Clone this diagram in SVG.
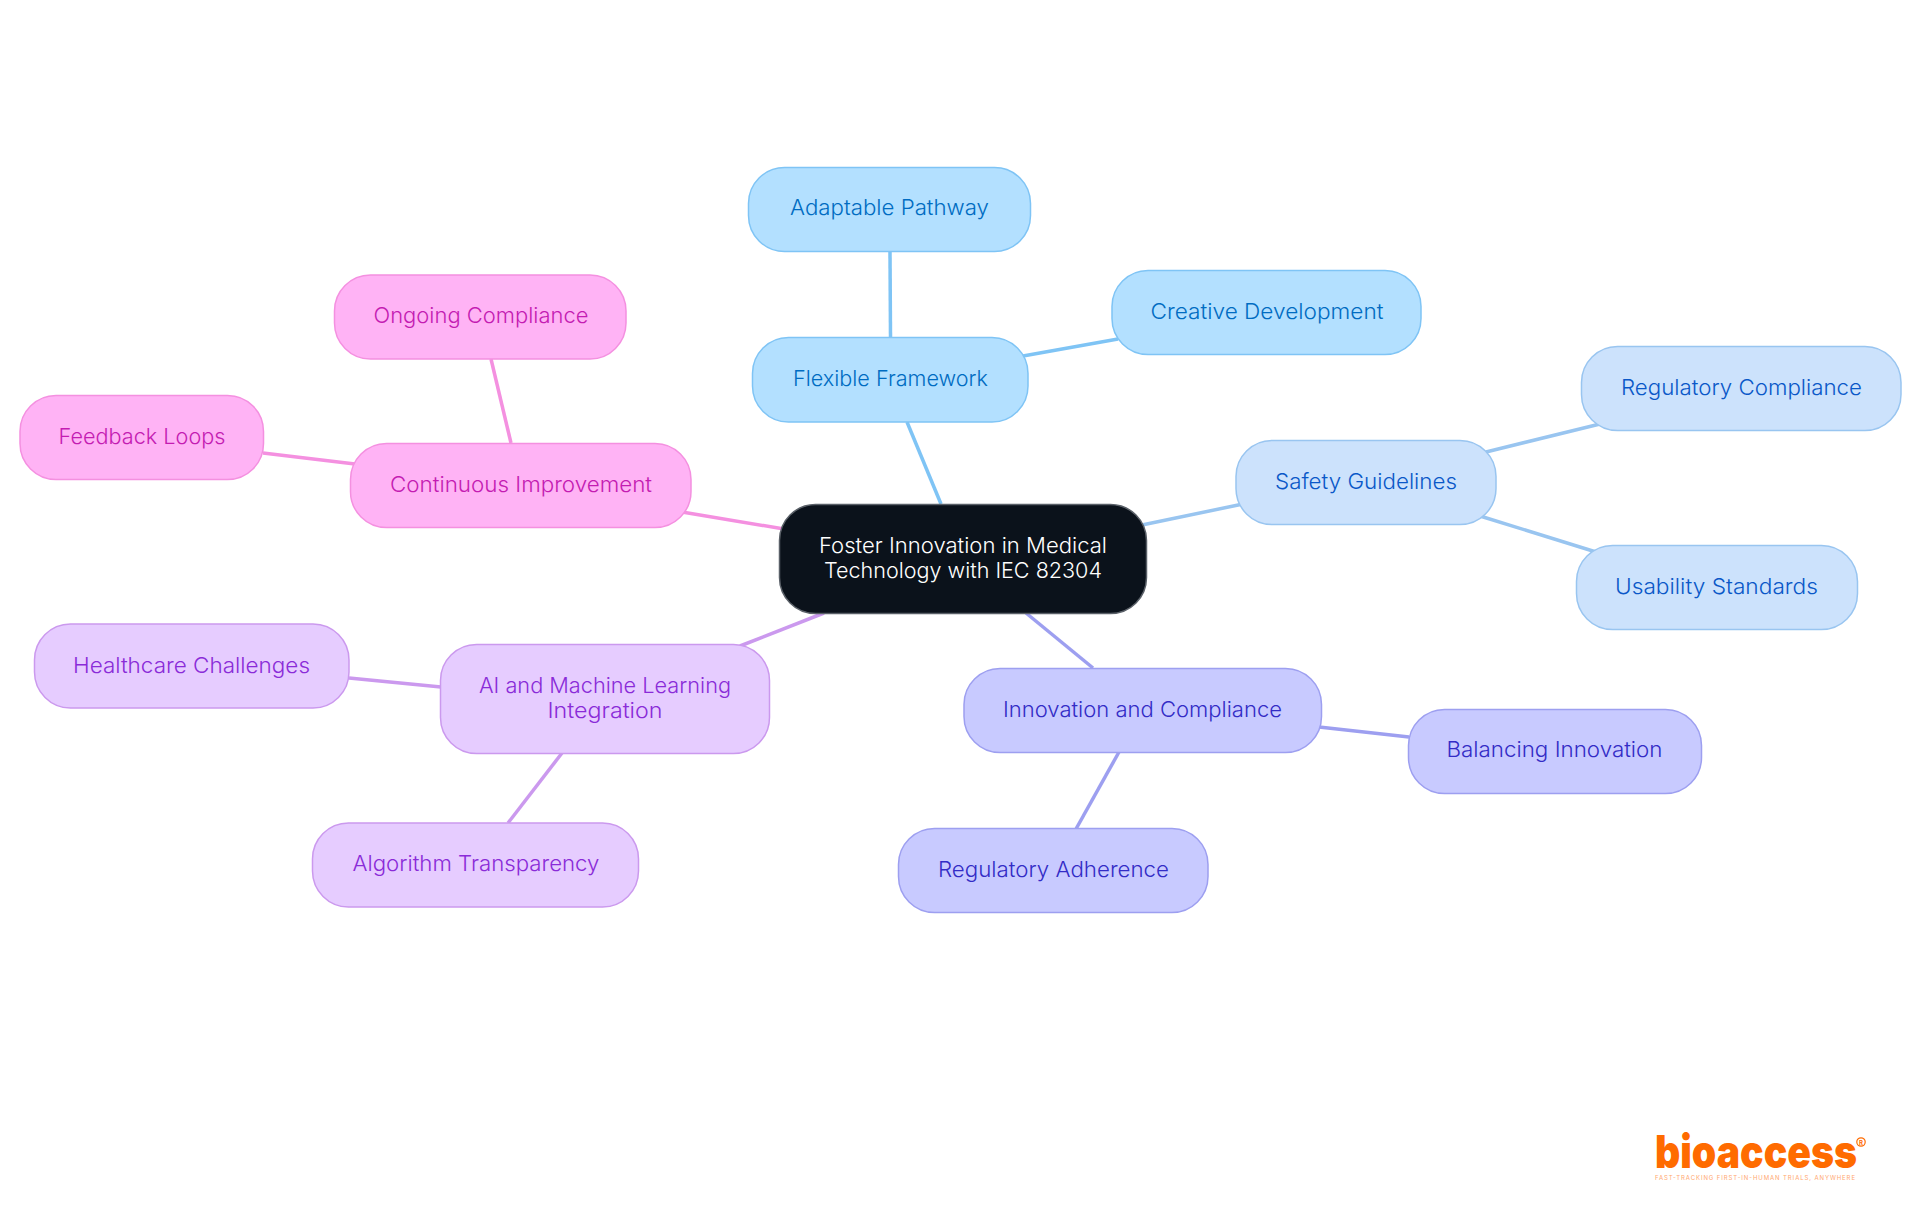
<svg xmlns="http://www.w3.org/2000/svg" width="1920" height="1215" viewBox="0 0 1920 1215">
<style>
text{font-family:"Inter","Noto Sans","Liberation Sans",sans-serif;font-size:22px;text-anchor:middle;font-weight:350}
.n{stroke-width:1.5}
.e{fill:none;stroke-linecap:butt}
.b1 rect{fill:#B3E0FF;stroke:#7FC4F5}.b1 text{fill:#006CC2}
.b2 rect{fill:#CCE2FC;stroke:#99C5F0}.b2 text{fill:#0A58C8}
.b3 rect{fill:#C8CAFF;stroke:#9D9FF0}.b3 text{fill:#332CC6}
.b4 rect{fill:#E6CCFF;stroke:#CB99EE}.b4 text{fill:#8A2BD8}
.b5 rect{fill:#FFB3F5;stroke:#F490E0}.b5 text{fill:#C41CB2}
</style>
<rect width="1920" height="1215" fill="#FFFFFF"/>
<g id="connectors" class="e" stroke-width="3.5">
<g stroke="#7FC4F5">
<path d="M941 504L907 422"/><path d="M890 252L890.500 337"/><path d="M1023 356L1118 339"/>
</g>
<g stroke="#99C5F0">
<path d="M1142 525L1243 504"/><path d="M1486 452L1600 424"/><path d="M1480 516L1596 552"/>
</g>
<g stroke="#9D9FF0">
<path d="M1026 613L1093 668"/><path d="M1319 727L1409 737"/><path d="M1119 752L1076 829"/>
</g>
<g stroke="#CB99EE">
<path d="M824 613L740 646"/><path d="M441 687L349 678"/><path d="M562 753L508 823"/>
</g>
<g stroke="#F490E0">
<path d="M784 529L682 512"/><path d="M355 464L263 453"/><path d="M511 443L491 359"/>
</g>
</g>
<g id="center"><rect x="779.500" y="504.500" width="367" height="109" rx="36" fill="#0B121B" stroke="#5A6068" stroke-width="1.500"/>
<text x="963" y="553" fill="#FFFFFF" textLength="288" lengthAdjust="spacingAndGlyphs">Foster Innovation in Medical</text>
<text x="963" y="578" fill="#FFFFFF" textLength="278" lengthAdjust="spacingAndGlyphs">Technology with IEC 82304</text></g>
<g id="flexible-framework" class="b1"><rect class="n" x="752.500" y="337.500" width="275.500" height="84.500" rx="36"/><text x="890.500" y="386" textLength="195" lengthAdjust="spacingAndGlyphs">Flexible Framework</text></g>
<g id="adaptable-pathway" class="b1"><rect class="n" x="748.500" y="167.500" width="282" height="84" rx="36"/><text x="889.500" y="215" textLength="199" lengthAdjust="spacingAndGlyphs">Adaptable Pathway</text></g>
<g id="creative-development" class="b1"><rect class="n" x="1112" y="270.500" width="309" height="84" rx="36"/><text x="1267" y="319" textLength="233" lengthAdjust="spacingAndGlyphs">Creative Development</text></g>
<g id="safety-guidelines" class="b2"><rect class="n" x="1236" y="440.500" width="260" height="84" rx="36"/><text x="1366" y="489" textLength="182" lengthAdjust="spacingAndGlyphs">Safety Guidelines</text></g>
<g id="regulatory-compliance" class="b2"><rect class="n" x="1581.500" y="346.500" width="319.500" height="84" rx="36"/><text x="1741.500" y="395" textLength="241" lengthAdjust="spacingAndGlyphs">Regulatory Compliance</text></g>
<g id="usability-standards" class="b2"><rect class="n" x="1576.500" y="545.500" width="281" height="84" rx="36"/><text x="1716.500" y="594" textLength="203" lengthAdjust="spacingAndGlyphs">Usability Standards</text></g>
<g id="innovation-compliance" class="b3"><rect class="n" x="964" y="668.500" width="357.500" height="84" rx="36"/><text x="1142.500" y="717" textLength="279" lengthAdjust="spacingAndGlyphs">Innovation and Compliance</text></g>
<g id="balancing-innovation" class="b3"><rect class="n" x="1408.500" y="709.500" width="293" height="84" rx="36"/><text x="1554.500" y="757" textLength="216" lengthAdjust="spacingAndGlyphs">Balancing Innovation</text></g>
<g id="regulatory-adherence" class="b3"><rect class="n" x="898.500" y="828.500" width="309.500" height="84" rx="36"/><text x="1053.500" y="877" textLength="231" lengthAdjust="spacingAndGlyphs">Regulatory Adherence</text></g>
<g id="ai-ml" class="b4"><rect class="n" x="440.500" y="644.500" width="329" height="109" rx="36"/><text x="605" y="692.500" textLength="252" lengthAdjust="spacingAndGlyphs">AI and Machine Learning</text><text x="605" y="717.500" textLength="115" lengthAdjust="spacingAndGlyphs">Integration</text></g>
<g id="healthcare-challenges" class="b4"><rect class="n" x="34.500" y="624" width="314.500" height="84" rx="36"/><text x="191.500" y="673" textLength="237" lengthAdjust="spacingAndGlyphs">Healthcare Challenges</text></g>
<g id="algorithm-transparency" class="b4"><rect class="n" x="312.500" y="823" width="326" height="84" rx="36"/><text x="476" y="871" textLength="247" lengthAdjust="spacingAndGlyphs">Algorithm Transparency</text></g>
<g id="continuous-improvement" class="b5"><rect class="n" x="350.500" y="443.500" width="340.500" height="84" rx="36"/><text x="521" y="491.500" textLength="262" lengthAdjust="spacingAndGlyphs">Continuous Improvement</text></g>
<g id="feedback-loops" class="b5"><rect class="n" x="20" y="395.500" width="243.500" height="84" rx="36"/><text x="142" y="444" textLength="167" lengthAdjust="spacingAndGlyphs">Feedback Loops</text></g>
<g id="ongoing-compliance" class="b5"><rect class="n" x="334.500" y="275" width="291.500" height="84" rx="36"/><text x="481" y="323" textLength="215" lengthAdjust="spacingAndGlyphs">Ongoing Compliance</text></g>
<g id="logo">
<text x="1655" y="1168" fill="#FF6B00" style="font-size:46px;font-weight:900;text-anchor:start" textLength="202" lengthAdjust="spacingAndGlyphs">bioaccess</text>
<circle cx="1861" cy="1142" r="4.200" fill="none" stroke="#FF6B00" stroke-width="1.200"/>
<text x="1861" y="1144.500" fill="#FF6B00" style="font-size:6px;font-weight:700">R</text>
<text x="1655" y="1179.500" fill="#FFA870" style="font-size:6px;text-anchor:start;font-weight:400" textLength="200" lengthAdjust="spacing">FAST-TRACKING FIRST-IN-HUMAN TRIALS, ANYWHERE</text>
</g>
</svg>
